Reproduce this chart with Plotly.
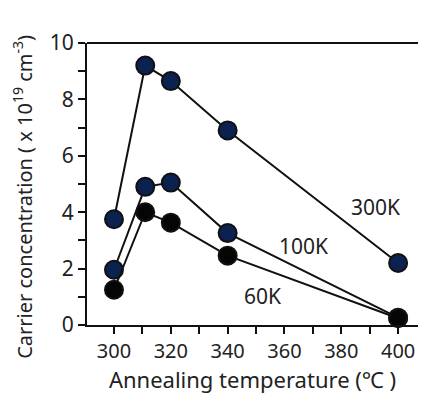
import plotly.graph_objects as go

temps = [300, 311, 320, 340, 400]
k300 = [3.75, 9.2, 8.65, 6.9, 2.2]
k100 = [1.96, 4.9, 5.05, 3.26, 0.26]
k60 = [1.25, 4.0, 3.63, 2.46, 0.24]
labels = ["300K", "100K", "60K"]
label_pos = [(392, 4.2), (366.8, 2.8), (352.3, 1.04)]
y_title = "Carrier concentration ( x 10<sup>19</sup> cm<sup>-3</sup>)"
x_title = "Annealing temperature (℃ )"

FONT = "Noto Sans"
navy = "#0b2150"
fig = go.Figure()
for ys, col in [(k300, navy), (k100, navy), (k60, "#050505")]:
    fig.add_trace(go.Scatter(
        x=temps, y=ys, mode="lines+markers", cliponaxis=False,
        line=dict(color="#111", width=2),
        marker=dict(size=18, color=col, line=dict(color="#111", width=2)),
        showlegend=False))

for lab, (lx, ly) in zip(labels, label_pos):
    fig.add_annotation(x=lx, y=ly, text=lab, showarrow=False,
                       font=dict(size=21, color="#222", family=FONT))

fig.add_annotation(xref="paper", yref="paper", x=-0.193, y=0.455, text=y_title,
                   textangle=-90, showarrow=False, xanchor="center", yanchor="middle",
                   font=dict(size=20, color="#222", family=FONT))

fig.add_shape(type="line", xref="paper", yref="paper", x0=0, x1=1, y0=1, y1=1,
              line=dict(color="#111", width=2))

fig.update_layout(
    width=422, height=394,
    margin=dict(l=87, r=4, t=43, b=69),
    plot_bgcolor="white", paper_bgcolor="white",
    font=dict(family=FONT, color="#222", size=20),
    xaxis=dict(range=[290.5, 407], tickvals=[300, 320, 340, 360, 380, 400],
               showgrid=False, zeroline=False, showline=True, linecolor="#111", linewidth=2,
               ticks="outside", ticklen=7, tickwidth=1.5, tickcolor="#111",
               minor=dict(dtick=10, tick0=300, ticks="outside", ticklen=7, tickcolor="#111", tickwidth=1.5),
               tickfont=dict(size=20),
               title=dict(text=x_title, font=dict(size=22), standoff=3)),
    yaxis=dict(range=[0, 10], tickvals=[0, 2, 4, 6, 8, 10],
               showgrid=False, zeroline=False, showline=True, linecolor="#111", linewidth=2,
               ticks="outside", ticklen=7, tickwidth=1.5, tickcolor="#111",
               minor=dict(dtick=1, tick0=0, ticks="outside", ticklen=7, tickcolor="#111", tickwidth=1.5),
               tickfont=dict(size=21)),
)
fig.write_html("out.html")
